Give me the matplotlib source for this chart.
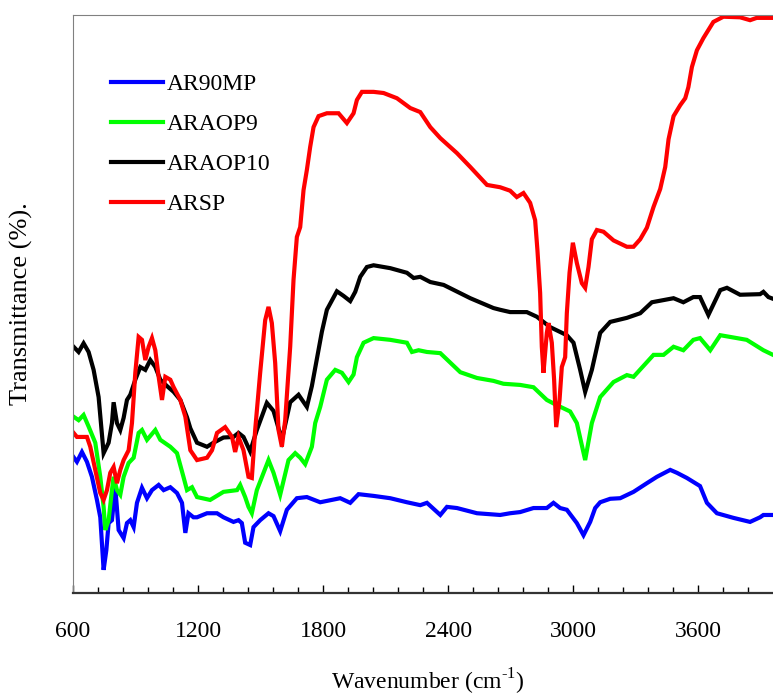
import matplotlib
matplotlib.use("Agg")
import matplotlib.pyplot as plt
import numpy as np

plt.rcParams['font.family'] = ['Liberation Serif', 'DejaVu Serif']
plt.rcParams['mathtext.fontset'] = 'custom'
plt.rcParams['mathtext.rm'] = 'Liberation Serif'

# FTIR spectra (wavenumber cm-1, transmittance %)
wn_ar90mp = [603, 619, 643, 667, 691, 715, 731, 747, 760, 771, 787, 803, 819, 843, 859, 875, 891,
             907, 931, 955, 979, 1011, 1035, 1067, 1099, 1123, 1139, 1154, 1178, 1195, 1243, 1291,
             1322, 1370, 1394, 1410, 1426, 1450, 1466, 1498, 1538, 1562, 1594, 1626, 1674, 1722,
             1786, 1882, 1930, 1970, 2042, 2122, 2202, 2266, 2298, 2362, 2394, 2442, 2538, 2649,
             2697, 2745, 2809, 2873, 2905, 2937, 2969, 3017, 3049, 3081, 3105, 3129, 3177, 3225,
             3289, 3353, 3401, 3465, 3497, 3545, 3608, 3641, 3689, 3768, 3848, 3896, 3912, 3958]
t_ar90mp = [23.5, 22.7, 24.4, 22.7, 20.1, 16.1, 13.1, 4.0, 7.4, 12.1, 12.6, 18.3, 10.9, 9.5, 12.1,
            12.6, 11.4, 15.6, 18.2, 16.4, 17.8, 18.7, 17.8, 18.3, 17.3, 15.6, 10.4, 13.8, 13.1,
            13.1, 13.8, 13.8, 13.1, 12.3, 12.6, 12.1, 8.7, 8.3, 11.4, 12.6, 13.8, 13.3, 10.7, 14.4,
            16.4, 16.6, 15.7, 16.4, 15.6, 17.1, 16.8, 16.4, 15.7, 15.2, 15.6, 13.5, 14.9, 14.7,
            13.8, 13.5, 13.8, 14.0, 14.7, 14.7, 15.6, 14.7, 14.4, 12.1, 10.0, 12.3, 14.7, 15.7,
            16.3, 16.4, 17.5, 19.0, 20.1, 21.3, 20.8, 19.9, 18.5, 15.6, 13.8, 13.0, 12.3, 13.1,
            13.5, 13.5]

wn_araop9 = [603, 627, 651, 675, 707, 731, 747, 755, 771, 787, 795, 811, 827, 843, 867, 891, 915,
             931, 955, 995, 1019, 1067, 1099, 1130, 1147, 1171, 1195, 1258, 1322, 1387, 1402, 1426,
             1442, 1458, 1482, 1538, 1562, 1594, 1634, 1666, 1690, 1714, 1746, 1762, 1786, 1818,
             1858, 1890, 1922, 1946, 1962, 1994, 2042, 2122, 2202, 2226, 2258, 2298, 2362, 2458,
             2538, 2617, 2665, 2745, 2809, 2873, 2921, 2985, 3017, 3057, 3089, 3129, 3193, 3257,
             3289, 3385, 3433, 3481, 3528, 3576, 3608, 3657, 3705, 3753, 3832, 3912, 3958]
t_araop9 = [30.5, 29.9, 30.8, 28.8, 26.0, 20.1, 14.9, 10.9, 12.6, 17.8, 20.1, 17.8, 17.0, 20.1,
            22.5, 23.4, 27.7, 28.2, 26.5, 28.2, 26.5, 25.3, 24.2, 20.1, 17.8, 18.3, 16.6, 16.1,
            17.5, 17.8, 18.7, 16.6, 14.9, 13.8, 17.8, 23.0, 20.8, 17.0, 23.0, 24.2, 23.4, 22.3,
            25.3, 29.4, 32.2, 36.9, 38.6, 38.1, 36.5, 37.8, 40.8, 43.3, 44.1, 43.8, 43.3, 41.7,
            42.0, 41.7, 41.5, 38.2, 37.2, 36.7, 36.2, 36.0, 35.6, 33.4, 32.5, 31.4, 29.4, 23.0,
            29.4, 33.9, 36.5, 37.7, 37.4, 41.2, 41.2, 42.6, 42.0, 43.8, 44.1, 42.0, 44.6, 44.3,
            43.8, 42.0, 41.2]

wn_araop10 = [603, 627, 651, 675, 699, 723, 747, 771, 787, 795, 811, 827, 843, 859, 875, 899, 923,
              947, 971, 995, 1019, 1051, 1083, 1115, 1147, 1163, 1195, 1243, 1274, 1322, 1370,
              1394, 1418, 1450, 1482, 1530, 1562, 1602, 1642, 1682, 1722, 1746, 1770, 1794, 1818,
              1866, 1898, 1930, 1954, 1978, 2010, 2042, 2122, 2202, 2234, 2266, 2314, 2378, 2506,
              2617, 2649, 2697, 2777, 2825, 2889, 2969, 3001, 3033, 3057, 3089, 3129, 3177, 3257,
              3321, 3377, 3481, 3528, 3576, 3608, 3648, 3705, 3737, 3800, 3896, 3912, 3936, 3958]
t_araop10 = [42.6, 41.7, 43.2, 41.7, 38.6, 33.9, 24.2, 26.0, 29.4, 33.0, 29.4, 28.2, 30.3, 33.4,
             34.3, 36.9, 39.1, 38.6, 40.3, 39.1, 36.9, 35.8, 34.8, 33.4, 30.4, 28.5, 26.0, 25.3,
             26.0, 26.9, 27.0, 27.7, 27.0, 24.5, 28.2, 32.9, 31.5, 26.5, 33.0, 34.3, 32.2, 35.8,
             40.5, 45.2, 49.0, 52.2, 51.4, 50.5, 52.1, 54.7, 56.4, 56.7, 56.2, 55.4, 54.5, 54.7,
             53.8, 53.3, 51.0, 49.3, 49.0, 48.6, 48.6, 47.8, 46.0, 44.6, 43.3, 38.6, 34.8, 38.6,
             45.0, 46.9, 47.6, 48.4, 50.3, 51.0, 50.3, 51.2, 51.2, 48.1, 52.4, 52.8, 51.6, 51.7,
             52.1, 51.2, 50.9]

wn_arsp = [603, 619, 667, 683, 707, 731, 747, 763, 779, 795, 811, 827, 843, 867, 883, 899, 915,
           931, 947, 963, 979, 995, 1011, 1027, 1043, 1067, 1083, 1115, 1139, 1163, 1195, 1243,
           1267, 1291, 1330, 1363, 1378, 1394, 1418, 1442, 1458, 1474, 1498, 1522, 1538, 1554,
           1570, 1586, 1602, 1618, 1642, 1658, 1674, 1690, 1706, 1722, 1738, 1754, 1778, 1818,
           1874, 1914, 1946, 1962, 1986, 2042, 2090, 2154, 2218, 2266, 2314, 2362, 2442, 2506,
           2586, 2649, 2697, 2729, 2761, 2793, 2817, 2828, 2841, 2849, 2857, 2873, 2881, 2897,
           2908, 2918, 2934, 2945, 2961, 2969, 2982, 2998, 3017, 3041, 3057, 3073, 3089, 3113,
           3145, 3193, 3257, 3289, 3321, 3353, 3385, 3417, 3441, 3457, 3481, 3513, 3537, 3552,
           3569, 3593, 3624, 3672, 3720, 3800, 3848, 3880, 3958]
t_arsp = [27.7, 27.0, 27.0, 25.3, 21.3, 17.3, 16.1, 17.8, 20.8, 21.8, 19.0, 21.3, 23.0, 24.7,
          29.4, 38.1, 44.3, 43.8, 40.3, 42.6, 44.1, 42.0, 37.4, 33.4, 37.4, 36.9, 35.6, 33.4,
          30.5, 24.7, 23.0, 23.4, 24.7, 27.7, 28.7, 27.0, 24.4, 27.0, 24.7, 20.1, 19.9, 28.2,
          38.1, 47.2, 49.5, 46.7, 39.8, 28.2, 25.3, 29.9, 42.6, 54.2, 61.6, 63.3, 69.7, 73.2,
          77.2, 80.6, 82.5, 83.0, 83.0, 81.3, 83.0, 85.3, 86.7, 86.7, 86.5, 85.6, 83.9, 83.2,
          80.6, 78.7, 76.1, 73.7, 70.6, 70.2, 69.6, 68.5, 69.2, 67.5, 64.5, 59.3, 51.9, 42.6,
          38.1, 45.0, 46.7, 43.3, 36.9, 28.7, 33.4, 39.1, 40.8, 48.4, 55.4, 60.6, 57.1, 53.6,
          52.8, 56.4, 61.2, 62.8, 62.5, 61.0, 59.9, 59.9, 61.2, 63.2, 66.8, 69.9, 73.7, 78.5,
          82.5, 84.4, 85.6, 87.5, 91.0, 93.9, 96.0, 98.8, 99.7, 99.6, 99.1, 99.5, 99.5]

labels = ['AR90MP', 'ARAOP9', 'ARAOP10', 'ARSP']
colors = ['#0000ff', '#00ff00', '#000000', '#ff0000']

fig = plt.figure(figsize=(7.73, 6.97), dpi=100)
ax = fig.add_axes([0.0944, 0.1492, 0.9056, 0.8293])

series = [(wn_ar90mp, t_ar90mp), (wn_araop9, t_araop9), (wn_araop10, t_araop10), (wn_arsp, t_arsp)]
for (x, y), lab, c in zip(series, labels, colors):
    ax.plot(x, y, color=c, lw=3, label=lab, solid_joinstyle='miter')

ax.set_xlim(600, 3958)
ax.set_ylim(0, 100)
ax.set_xticks(np.arange(600, 3601, 600))
ax.set_xticks(np.arange(600, 3958, 120), minor=True)
ax.set_yticks([])
ax.tick_params(axis='x', which='major', direction='in', length=6, width=1, pad=20, labelsize=17)
ax.tick_params(axis='x', which='minor', direction='in', length=4, width=1)

ax.spines['right'].set_visible(False)
ax.spines['top'].set_color('#808080')
ax.spines['left'].set_color('#808080')
ax.spines['bottom'].set_color('#333333')
ax.spines['bottom'].set_linewidth(1.6)

ax.set_xlabel('Wavenumber (cm$^{\\text{-1}}$)', fontsize=17)
ax.xaxis.set_label_coords(0.507, -0.127)
ax.set_ylabel('Transmittance (%).', fontsize=19)
ax.yaxis.set_label_coords(-0.057, 0.5)

ax.legend(loc='upper left', bbox_to_anchor=(0.055, 0.898), frameon=False, fontsize=17,
          handlelength=2.2, handletextpad=0.15, labelspacing=0.78, borderpad=0, borderaxespad=0)

fig.savefig('out.png', dpi=100)
